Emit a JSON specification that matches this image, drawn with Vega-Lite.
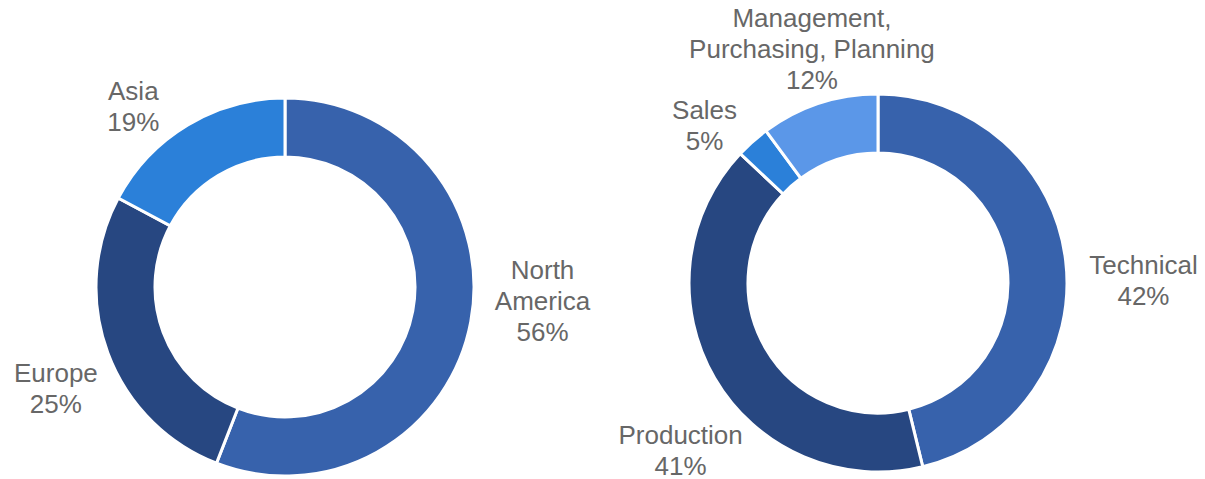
{
  "$schema": "https://vega.github.io/schema/vega-lite/v6.json",
  "padding": {"top": 6, "left": 0, "right": 0, "bottom": 0},
  "spacing": 23,
  "bounds": "flush",
  "background": "white",
  "config": {"view": {"stroke": null}, "text": {"fontSize": 26, "font": "Liberation Sans", "color": "#676767", "lineBreak": "\n", "lineHeight": 31, "align": "center", "baseline": "middle"}},
  "resolve": {"scale": {"color": "independent", "theta": "independent"}},
  "hconcat": [
    {
      "width": 570,
      "height": 380,
      "data": {"values": [
        {"idx": 1, "segment": "North America", "share": 55.9, "label": "North\nAmerica\n56%"},
        {"idx": 2, "segment": "Europe", "share": 26.9, "label": "Europe\n25%"},
        {"idx": 3, "segment": "Asia", "share": 17.2, "label": "Asia\n19%"}
      ]},
      "encoding": {
        "theta": {"field": "share", "type": "quantitative", "stack": true},
        "order": {"field": "idx", "type": "quantitative"}
      },
      "layer": [
        {
          "mark": {"type": "arc", "outerRadius": 189, "innerRadius": 130, "stroke": "white", "strokeWidth": 3},
          "encoding": {
            "color": {"field": "segment", "type": "nominal", "legend": null,
              "scale": {"domain": ["North America", "Europe", "Asia"], "range": ["#3762AC", "#274781", "#2B80D9"]}}
          }
        },
        {
          "mark": {"type": "text", "radius": 258, "thetaOffset": -0.246},
          "encoding": {"text": {"condition": {"test": "datum.idx == 1", "field": "label"}, "value": ""}}
        },
        {
          "mark": {"type": "text", "radius": 245, "thetaOffset": -0.007},
          "encoding": {"text": {"condition": {"test": "datum.idx == 2", "field": "label"}, "value": ""}}
        },
        {
          "mark": {"type": "text", "radius": 247, "thetaOffset": -0.121},
          "encoding": {"text": {"condition": {"test": "datum.idx == 3", "field": "label"}, "value": ""}}
        }
      ]
    },
    {
      "width": 570,
      "height": 372,
      "data": {"values": [
        {"idx": 1, "segment": "Technical", "share": 46.2, "label": "Technical\n42%"},
        {"idx": 2, "segment": "Production", "share": 40.8, "label": "Production\n41%"},
        {"idx": 3, "segment": "Sales", "share": 2.9, "label": "Sales\n5%"},
        {"idx": 4, "segment": "Management, Purchasing, Planning", "share": 10.1, "label": "Management,\nPurchasing, Planning\n12%"}
      ]},
      "encoding": {
        "theta": {"field": "share", "type": "quantitative", "stack": true},
        "order": {"field": "idx", "type": "quantitative"}
      },
      "layer": [
        {
          "mark": {"type": "arc", "outerRadius": 189, "innerRadius": 130, "stroke": "white", "strokeWidth": 3},
          "encoding": {
            "color": {"field": "segment", "type": "nominal", "legend": null,
              "scale": {"domain": ["Technical", "Production", "Sales", "Management, Purchasing, Planning"], "range": ["#3762AC", "#274781", "#2B80D9", "#5B97E8"]}}
          }
        },
        {
          "mark": {"type": "text", "radius": 266, "thetaOffset": 0.056},
          "encoding": {"text": {"condition": {"test": "datum.idx == 1", "field": "label"}, "value": ""}}
        },
        {
          "mark": {"type": "text", "radius": 250, "thetaOffset": -0.133},
          "encoding": {"text": {"condition": {"test": "datum.idx == 2", "field": "label"}, "value": ""}}
        },
        {
          "mark": {"type": "text", "radius": 244, "thetaOffset": -0.065},
          "encoding": {"text": {"condition": {"test": "datum.idx == 3", "field": "label"}, "value": ""}}
        },
        {
          "mark": {"type": "text", "radius": 272, "thetaOffset": 0.072},
          "encoding": {"text": {"condition": {"test": "datum.idx == 4", "field": "label"}, "value": ""}}
        }
      ]
    }
  ]
}
